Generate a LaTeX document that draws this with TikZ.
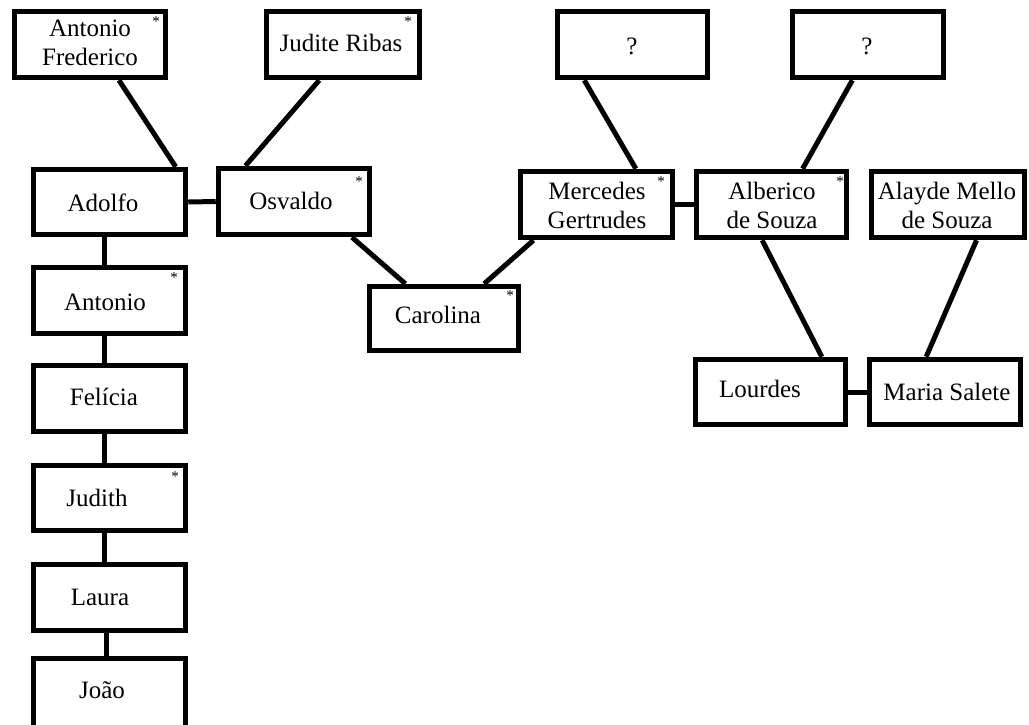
\documentclass[tikz,border=0pt]{standalone}
\usepackage{fontspec}
\setmainfont{Liberation Serif}
\usetikzlibrary{calc}
\begin{document}
\begin{tikzpicture}[x=1pt,y=-1pt,
 box/.style={draw, line width=5.5pt, inner sep=0pt, rectangle},
 lbl/.style={font=\fontsize{25}{29}\selectfont, align=center, inner sep=0pt},
 star/.style={font=\fontsize{15}{15}\selectfont, inner sep=0pt},
 link/.style={line width=5pt}]
\clip (0,0) rectangle (1029,724);
% boxes
\node[box, minimum width=151pt, minimum height=66pt] (af) at (90,44.5) {};
\node[box, minimum width=153pt, minimum height=66pt] (jr) at (343,44.5) {};
\node[box, minimum width=150pt, minimum height=66pt] (q1) at (632.5,44.5) {};
\node[box, minimum width=151pt, minimum height=66pt] (q2) at (868,44.5) {};
\node[box, minimum width=152pt, minimum height=65pt] (adolfo) at (109.5,202) {};
\node[box, minimum width=151pt, minimum height=66pt] (osvaldo) at (294,201.5) {};
\node[box, minimum width=152pt, minimum height=66pt] (mercedes) at (596.5,204.5) {};
\node[box, minimum width=150pt, minimum height=66pt] (alberico) at (771.5,204.5) {};
\node[box, minimum width=153pt, minimum height=66pt] (alayde) at (948,204.5) {};
\node[box, minimum width=152pt, minimum height=66pt] (antonio) at (109.5,300.5) {};
\node[box, minimum width=152pt, minimum height=66pt] (felicia) at (109.5,398.5) {};
\node[box, minimum width=152pt, minimum height=65pt] (judith) at (109.5,498) {};
\node[box, minimum width=152pt, minimum height=66pt] (laura) at (109.5,597.5) {};
\node[box, minimum width=152pt, minimum height=89pt] (joao) at (109.5,703) {};
\node[box, minimum width=149pt, minimum height=64pt] (carolina) at (444,318.5) {};
\node[box, minimum width=150pt, minimum height=65pt] (lourdes) at (770.5,392) {};
\node[box, minimum width=151pt, minimum height=65pt] (maria) at (945,392) {};
% texts
\node[lbl] (af-t) at (90,43) {Antonio\\Frederico};
\node[lbl] (jr-t) at (341,43) {Judite Ribas};
\node[lbl] (q1-t) at (632,46) {?};
\node[lbl] (q2-t) at (867,46) {?};
\node[lbl] (adolfo-t) at (103,203) {Adolfo};
\node[lbl] (osvaldo-t) at (291,201) {Osvaldo};
\node[lbl] (mercedes-t) at (597,205) {Mercedes\\Gertrudes};
\node[lbl] (alberico-t) at (772,205) {Alberico\\de Souza};
\node[lbl] (alayde-t) at (947,205) {Alayde Mello\\de Souza};
\node[lbl] (antonio-t) at (105,302) {Antonio};
\node[lbl] (felicia-t) at (104,397) {Felícia};
\node[lbl] (carolina-t) at (438,315) {Carolina};
\node[lbl] (lourdes-t) at (760,389) {Lourdes};
\node[lbl] (maria-t) at (947,392) {Maria Salete};
\node[lbl] (judith-t) at (97,498) {Judith};
\node[lbl] (laura-t) at (100,597) {Laura};
\node[lbl] (joao-t) at (102,690) {João};
% asterisks
\node[star] (af-s) at (156,22) {*};
\node[star] (jr-s) at (408,22) {*};
\node[star] (osvaldo-s) at (359,182) {*};
\node[star] (mercedes-s) at (661,182) {*};
\node[star] (alberico-s) at (840,182) {*};
\node[star] (antonio-s) at (174,278) {*};
\node[star] (carolina-s) at (510,296) {*};
\node[star] (judith-s) at (175,477) {*};
% connectors
\draw[link] ($(af.south west)!0.685!(af.south east)$) -- ($(adolfo.north west)!0.92!(adolfo.north east)$);
\draw[link] ($(jr.south west)!0.35!(jr.south east)$) -- ($(osvaldo.north west)!0.19!(osvaldo.north east)$);
\draw[link] (adolfo.east) -- (osvaldo.west);
\draw[link] ($(osvaldo.south west)!0.87!(osvaldo.south east)$) -- ($(carolina.north west)!0.25!(carolina.north east)$);
\draw[link] ($(carolina.north west)!0.76!(carolina.north east)$) -- ($(mercedes.south west)!0.1!(mercedes.south east)$);
\draw[link] ($(q1.south west)!0.19!(q1.south east)$) -- ($(mercedes.north west)!0.75!(mercedes.north east)$);
\draw[link] ($(q2.south west)!0.4!(q2.south east)$) -- ($(alberico.north west)!0.7!(alberico.north east)$);
\draw[link] (mercedes.east) -- (alberico.west);
\draw[link] ($(alberico.south west)!0.44!(alberico.south east)$) -- ($(lourdes.north west)!0.83!(lourdes.north east)$);
\draw[link] ($(alayde.south west)!0.68!(alayde.south east)$) -- ($(maria.north west)!0.38!(maria.north east)$);
\draw[link] (lourdes.east) -- (maria.west);
\draw[link] ($(adolfo.south west)!0.47!(adolfo.south east)$) -- ($(antonio.north west)!0.47!(antonio.north east)$);
\draw[link] ($(antonio.south west)!0.47!(antonio.south east)$) -- ($(felicia.north west)!0.47!(felicia.north east)$);
\draw[link] ($(felicia.south west)!0.47!(felicia.south east)$) -- ($(judith.north west)!0.47!(judith.north east)$);
\draw[link] ($(judith.south west)!0.47!(judith.south east)$) -- ($(laura.north west)!0.47!(laura.north east)$);
\draw[link] ($(laura.south west)!0.48!(laura.south east)$) -- ($(joao.north west)!0.48!(joao.north east)$);
\end{tikzpicture}
\end{document}
